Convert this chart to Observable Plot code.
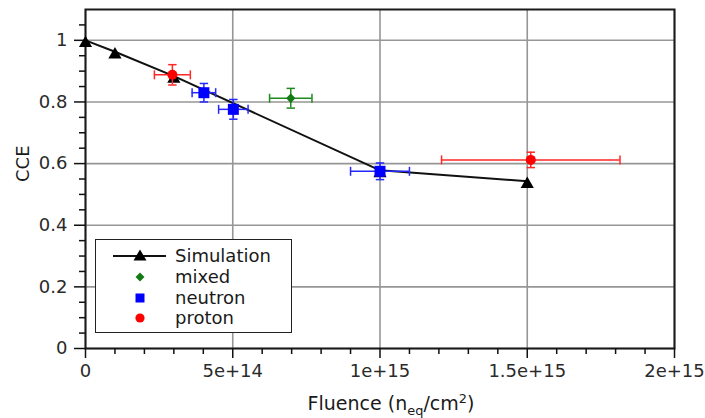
<!DOCTYPE html>
<html>
<head>
<meta charset="utf-8">
<script src="https://cdn.jsdelivr.net/npm/d3@7"></script>
<script src="https://cdn.jsdelivr.net/npm/@observablehq/plot@0.6"></script>
<style>
  html, body { margin: 0; padding: 0; background: #fff; }
  #wrap { position: relative; width: 705px; height: 418px; font-family: "DejaVu Sans", sans-serif; }
  #xtitle { position: absolute; left: 191px; width: 400px; top: 393px; text-align: center; font-size: 19px; line-height: 20px; color: #1a1a1a; }
  #xtitle sub, #xtitle sup { font-size: 0.68em; line-height: 0; }
  #legend { position: absolute; left: 95px; top: 239px; width: 195px; height: 92px; border: 1.5px solid #222; background: #fff; }
  .lrow { position: absolute; left: 0; width: 100%; height: 20px; }
  .lrow span { position: absolute; left: 79px; top: 0; font-size: 18px; line-height: 20px; color: #1a1a1a; }
  .lrow svg { position: absolute; left: 0; top: 0; }
</style>
</head>
<body>
<div id="wrap"></div>
<script>
// ---------------- data ----------------
const simFluence = [0, 1e14, 3e14, 1e15, 1.5e15];
const simCCE     = [1.0, 0.963, 0.884, 0.578, 0.543];

const mixedFluence    = [6.97e14];
const mixedCCE        = [0.812];
const mixedFluenceErr = [0.72e14];
const mixedCCEErr     = [0.032];

const neutronFluence    = [4.02e14, 5.02e14, 1.0e15];
const neutronCCE        = [0.830, 0.776, 0.575];
const neutronFluenceErr = [0.40e14, 0.50e14, 1.0e14];
const neutronCCEErr     = [0.030, 0.032, 0.027];

const protonFluence    = [2.95e14, 1.512e15];
const protonCCE        = [0.888, 0.612];
const protonFluenceErr = [0.61e14, 0.303e15];
const protonCCEErr     = [0.033, 0.025];

const xMajorTicks = [0, 5e14, 1e15, 1.5e15, 2e15];
const xMinorTicks = [1e14, 2e14, 3e14, 4e14, 6e14, 7e14, 8e14, 9e14, 1.1e15, 1.2e15, 1.3e15, 1.4e15, 1.6e15, 1.7e15, 1.8e15, 1.9e15];
const yMajorTicks = [0, 0.2, 0.4, 0.6, 0.8, 1];
const yMinorTicks = [0.05, 0.1, 0.15, 0.25, 0.3, 0.35, 0.45, 0.5, 0.55, 0.65, 0.7, 0.75, 0.85, 0.9, 0.95, 1.05];

const legendLabels = ["Simulation", "mixed", "neutron", "proton"];

// ---------------- tables ----------------
const sim = simFluence.map((f, i) => ({f, c: simCCE[i]}));
const mk = (F, C, FE, CE) => F.map((f, i) => ({f, c: C[i], fe: FE[i], ce: CE[i]}));
const mixed = mk(mixedFluence, mixedCCE, mixedFluenceErr, mixedCCEErr);
const neutron = mk(neutronFluence, neutronCCE, neutronFluenceErr, neutronCCEErr);
const proton = mk(protonFluence, protonCCE, protonFluenceErr, protonCCEErr);

// ---------------- symbols ----------------
const triSym = {draw(ctx) { ctx.moveTo(0, -4.6); ctx.lineTo(6.6, 6.8); ctx.lineTo(-6.6, 6.8); ctx.closePath(); }};
const sqSym = {draw(ctx) { ctx.rect(-5.5, -5.5, 11, 11); }};
const diaSym = {draw(ctx) { ctx.moveTo(0, -5); ctx.lineTo(4.6, 0); ctx.lineTo(0, 5); ctx.lineTo(-4.6, 0); ctx.closePath(); }};
const vCap = {draw(ctx) { ctx.moveTo(0, -4.5); ctx.lineTo(0, 4.5); }};
const hCap = {draw(ctx) { ctx.moveTo(-4.2, 0); ctx.lineTo(4.2, 0); }};

function errorBars(data, color) {
  return [
    Plot.ruleY(data, {y: "c", x1: d => d.f - d.fe, x2: d => d.f + d.fe, stroke: color, strokeWidth: 1.5}),
    Plot.ruleX(data, {x: "f", y1: d => d.c - d.ce, y2: d => d.c + d.ce, stroke: color, strokeWidth: 1.5}),
    Plot.dot(data, {x: d => d.f - d.fe, y: "c", symbol: vCap, stroke: color, fill: "none", strokeWidth: 1.5}),
    Plot.dot(data, {x: d => d.f + d.fe, y: "c", symbol: vCap, stroke: color, fill: "none", strokeWidth: 1.5}),
    Plot.dot(data, {x: "f", y: d => d.c - d.ce, symbol: hCap, stroke: color, fill: "none", strokeWidth: 1.5}),
    Plot.dot(data, {x: "f", y: d => d.c + d.ce, symbol: hCap, stroke: color, fill: "none", strokeWidth: 1.5})
  ];
}

const fmtX = d => d === 0 ? "0" : d.toExponential();

const chart = Plot.plot({
  width: 705,
  height: 418,
  marginLeft: 85,
  marginRight: 31,
  marginTop: 9,
  marginBottom: 70,
  style: {fontFamily: "DejaVu Sans", fontSize: "18px", color: "#222", background: "white"},
  x: {domain: [0, 2e15]},
  y: {domain: [0, 1.1]},
  marks: [
    Plot.gridX(xMajorTicks, {stroke: "#969696", strokeOpacity: 1, strokeWidth: 1.6}),
    Plot.gridY(yMajorTicks, {stroke: "#969696", strokeOpacity: 1, strokeWidth: 1.6}),
    Plot.frame({stroke: "#1a1a1a", strokeWidth: 2}),
    Plot.axisX(xMinorTicks, {tickSize: 6, tickFormat: () => "", stroke: "#111", strokeWidth: 1.5, label: null}),
    Plot.axisX(xMajorTicks, {tickSize: 10, tickPadding: 6, tickFormat: fmtX, stroke: "#111", strokeWidth: 1.5, fill: "#2a2a2a", label: null}),
    Plot.axisY(yMinorTicks, {tickSize: 6, tickFormat: () => "", stroke: "#111", strokeWidth: 1.5, label: null}),
    Plot.axisY(yMajorTicks, {tickSize: 11, tickPadding: 7, tickFormat: d => String(d), stroke: "#111", strokeWidth: 1.5, fill: "#2a2a2a", label: null}),
    Plot.text(["CCE"], {frameAnchor: "left", dx: -62, dy: 3, rotate: -90, text: d => d, fill: "#1a1a1a", fontSize: 18}),
    Plot.line(sim, {x: "f", y: "c", stroke: "#111", strokeWidth: 2}),
    Plot.dot(sim, {x: "f", y: "c", symbol: triSym, fill: "#000", stroke: "none"}),
    ...errorBars(mixed, "#1f8a1f"),
    Plot.dot(mixed, {x: "f", y: "c", symbol: diaSym, fill: "#147a14", stroke: "none"}),
    ...errorBars(neutron, "#2626ff"),
    Plot.dot(neutron, {x: "f", y: "c", symbol: sqSym, fill: "#0000ff", stroke: "none"}),
    ...errorBars(proton, "#ff2626"),
    Plot.dot(proton, {x: "f", y: "c", symbol: "circle", r: 5, fill: "#ff0000", stroke: "none"})
  ]
});

const wrap = document.getElementById("wrap");
wrap.appendChild(chart);

// x axis title (with sub/superscript)
const xt = document.createElement("div");
xt.id = "xtitle";
xt.innerHTML = "Fluence (n<sub>eq</sub>/cm<sup>2</sup>)";
wrap.appendChild(xt);

// legend
const lg = document.createElement("div");
lg.id = "legend";
const rowTops = [6, 26.5, 47.5, 67.5];
const icons = [
  '<svg width="78" height="20"><line x1="17" y1="10" x2="70" y2="10" stroke="#111" stroke-width="2"/><path d="M44,3.5 L50.5,14.5 L37.5,14.5 Z" fill="#000"/></svg>',
  '<svg width="78" height="20"><path d="M44,5.5 L48.5,10 L44,14.5 L39.5,10 Z" fill="#147a14"/></svg>',
  '<svg width="78" height="20"><rect x="39.5" y="5.5" width="9" height="9" fill="#0000ff"/></svg>',
  '<svg width="78" height="20"><circle cx="44" cy="10" r="4.6" fill="#ff0000"/></svg>'
];
legendLabels.forEach((lab, i) => {
  const r = document.createElement("div");
  r.className = "lrow";
  r.style.top = rowTops[i] + "px";
  r.innerHTML = icons[i] + "<span>" + lab + "</span>";
  lg.appendChild(r);
});
wrap.appendChild(lg);
</script>
</body>
</html>
